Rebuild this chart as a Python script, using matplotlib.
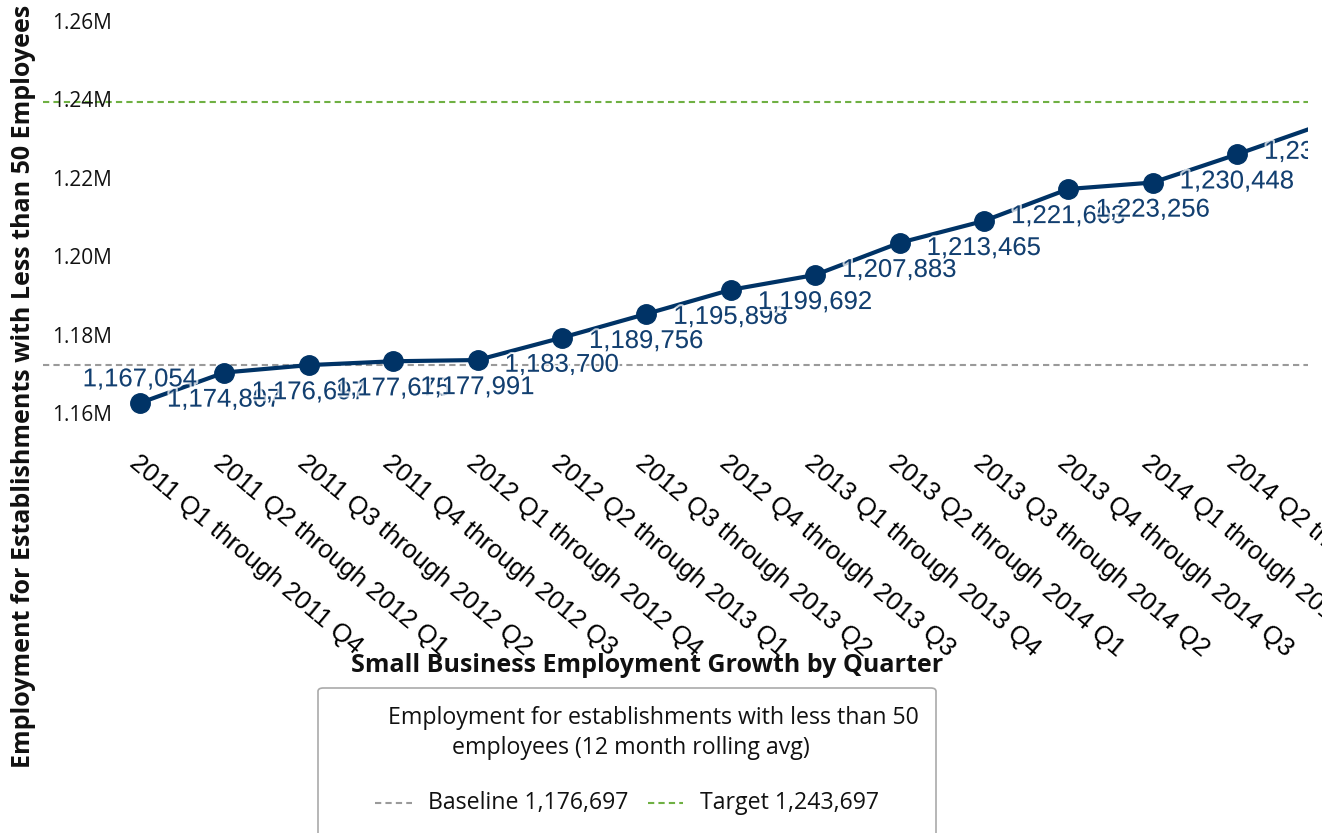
import matplotlib
matplotlib.use("Agg")
import matplotlib.pyplot as plt
import matplotlib.patheffects as pe
from matplotlib.transforms import blended_transform_factory, ScaledTranslation
from matplotlib.patches import FancyBboxPatch
from matplotlib.lines import Line2D

# ---- data ----
quarters = [
    "2011 Q1 through 2011 Q4", "2011 Q2 through 2012 Q1", "2011 Q3 through 2012 Q2",
    "2011 Q4 through 2012 Q3", "2012 Q1 through 2012 Q4", "2012 Q2 through 2013 Q1",
    "2012 Q3 through 2013 Q2", "2012 Q4 through 2013 Q3", "2013 Q1 through 2013 Q4",
    "2013 Q2 through 2014 Q1", "2013 Q3 through 2014 Q2", "2013 Q4 through 2014 Q3",
    "2014 Q1 through 2014 Q4", "2014 Q2 through 2015 Q1", "2014 Q3 through 2015 Q2",
]
employment = [1167054, 1174807, 1176697, 1177675, 1177991, 1183700, 1189756, 1195898,
              1199692, 1207883, 1213465, 1221603, 1223256, 1230448, 1238000]
baseline = 1176697
target = 1243697
ytick_values = [1160000, 1180000, 1200000, 1220000, 1240000, 1260000]
ytick_labels = ["1.16M", "1.18M", "1.20M", "1.22M", "1.24M", "1.26M"]
series_name = "Employment for establishments with less than 50\nemployees (12 month rolling avg)"
x_title = "Small Business Employment Growth by Quarter"
y_title = "Employment for Establishments with Less than 50 Employees"

NAVY = "#003366"
LABEL_C = "#123f70"
GRAY = "#9a9a9a"
GREEN = "#6fb043"
UI_FONT = ["Open Sans", "DejaVu Sans"]
ARIAL = ["Liberation Sans", "DejaVu Sans"]

W, H = 1322, 833
fig = plt.figure(figsize=(W / 100, H / 100), dpi=100)
ax = fig.add_axes([43 / W, 1 - 440 / H, (1308 - 43) / W, 440 / H])
for s in ax.spines.values():
    s.set_visible(False)

x = list(range(len(quarters)))
ax.set_xlim(-1.15, 13.84)
ax.set_ylim(1157600, 1269800)

ax.axhline(baseline, color=GRAY, lw=1.5, dashes=(3, 2), zorder=1)
ax.axhline(target, color=GREEN, lw=1.5, dashes=(3, 2), zorder=1)

ax.plot(x, employment, color=NAVY, lw=3, marker="o", ms=14, zorder=3)

for i, (xi, v) in enumerate(zip(x, employment)):
    dy = 17 if i == 0 else -19.5
    ax.annotate(f"{v:,}", (xi, v), xytext=(0, dy), textcoords="offset points",
                ha="center", va="center", fontsize=18.5, family=ARIAL, color=LABEL_C,
                annotation_clip=False, clip_on=True, zorder=4,
                path_effects=[pe.withStroke(linewidth=3, foreground=(1, 1, 1, 0.75))])

# x ticks
ax.set_xticks(x[:14])
ax.set_xticklabels(quarters[:14], rotation=-40, ha="left", va="top",
                   rotation_mode="anchor", fontsize=18.5, family=ARIAL, color="#000000")
ax.tick_params(axis="x", length=0, pad=8)
ax.set_yticks([])

# y tick labels (drawn inside plot, shifted up)
tr = blended_transform_factory(ax.transAxes, ax.transData) + ScaledTranslation(0, 0.15, fig.dpi_scale_trans)
for v, lab in zip(ytick_values, ytick_labels):
    ax.text(0.0545, v, lab, transform=tr, ha="right", va="center", fontsize=15,
            family=UI_FONT, color="#111111", zorder=2)

# axis titles
fig.text(24 / W, 1 - 386 / H, y_title, rotation=90, ha="center", va="center",
         fontsize=18, fontweight="bold", family=UI_FONT, color="#111111")
fig.text(647 / W, 1 - 665 / H, x_title, ha="center", va="center",
         fontsize=18, fontweight="bold", family=UI_FONT, color="#111111")

# legend box
box = FancyBboxPatch((318 / W, -30 / H), (936 - 318) / W, (833 - 688 + 30) / H,
                     boxstyle="round,pad=0,rounding_size=0.004", transform=fig.transFigure,
                     facecolor="white", edgecolor="#aaaaaa", lw=1.2)
fig.add_artist(box)
LEG_FS = 16.7
l1, l2 = series_name.split("\n")
fig.text(653 / W, 1 - 718 / H, l1, ha="center", va="center", fontsize=LEG_FS,
         family=UI_FONT, color="#111111")
fig.text(631 / W, 1 - 748 / H, l2, ha="center", va="center", fontsize=LEG_FS,
         family=UI_FONT, color="#111111")
ly = 1 - 803 / H
fig.add_artist(Line2D([375 / W, 412 / W], [ly, ly], transform=fig.transFigure,
                      color=GRAY, lw=1.5, dashes=(3, 2)))
fig.text(428 / W, ly, f"Baseline {baseline:,}", ha="left", va="center", fontsize=LEG_FS,
         family=UI_FONT, color="#111111")
fig.add_artist(Line2D([648 / W, 683 / W], [ly, ly], transform=fig.transFigure,
                      color=GREEN, lw=1.5, dashes=(3, 2)))
fig.text(700 / W, ly, f"Target {target:,}", ha="left", va="center", fontsize=LEG_FS,
         family=UI_FONT, color="#111111")

fig.savefig("out.png", dpi=100)
